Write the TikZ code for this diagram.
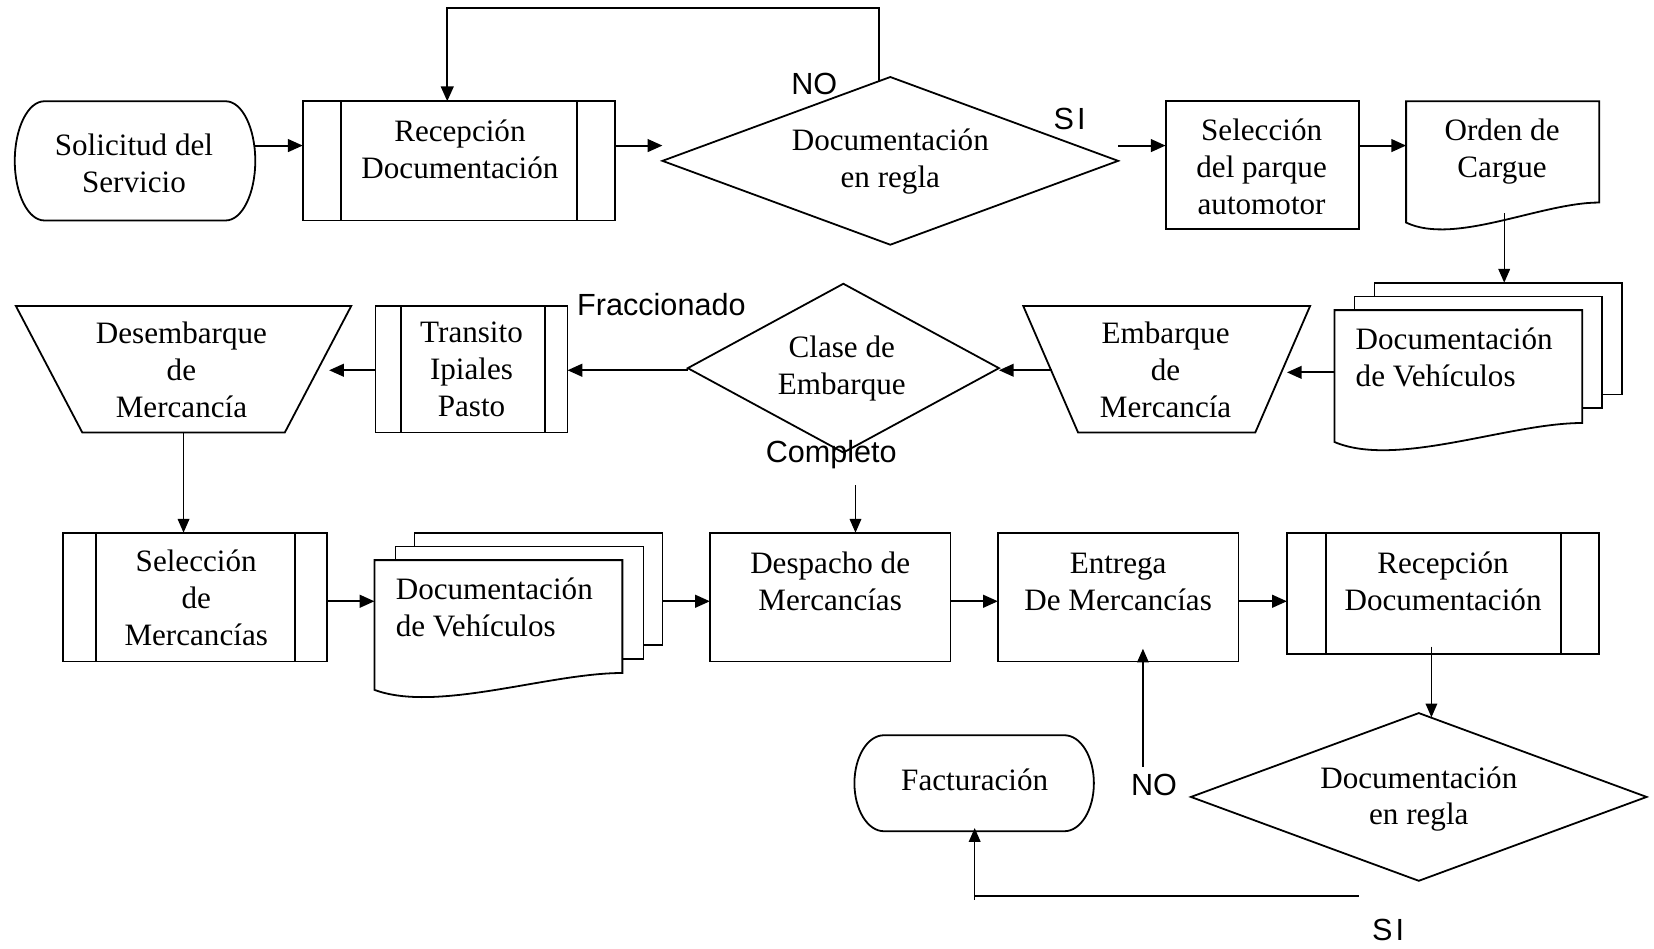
\documentclass[tikz,border=0pt]{standalone}
\usepackage{fontspec}
\setmainfont{Liberation Serif}
\setsansfont{Liberation Sans}
\usetikzlibrary{calc,arrows.meta}
\begin{document}
\begin{tikzpicture}[x=1pt,y=-1pt,
  shp/.style={draw, line width=1.7pt},
  fr/.style 2 args={inner sep=0pt, outer sep=0pt, minimum width=#1pt, minimum height=#2pt},
  txt/.style={font=\fontsize{29.5}{35}\selectfont, align=center, inner sep=0pt},
  lab/.style={font=\sffamily\fontsize{29}{34}\selectfont, inner sep=0pt},
  arr/.style={line width=2pt, -{Triangle[length=14pt,width=12pt]}},
  arrt/.style={line width=1.3pt, -{Triangle[length=13pt,width=11pt]}}]
\fill[white] (0,0) rectangle (1568,899);
\useasboundingbox (0,0) rectangle (1568,899);

% ---------- row 1 ----------
\node[fr={228}{113}] (sol) at (128,152.5) {};
\draw[shp] ($(sol.north east)+(-28,0)$) arc[start angle=90,end angle=-90,x radius=28pt,y radius=56.5pt]
  -- ($(sol.south west)+(28,0)$) arc[start angle=270,end angle=90,x radius=28pt,y radius=56.5pt] -- cycle;

\node[shp, fr={296}{113}] (rec1) at (435,152.5) {};
\draw[shp] ($(rec1.north west)+(36,0)$) -- ($(rec1.south west)+(36,0)$)
           ($(rec1.north east)+(-36,0)$) -- ($(rec1.south east)+(-36,0)$);

\node[fr={432}{159}] (d1) at (844,152.5) {};
\draw[shp] (d1.west) -- (d1.north) -- (d1.east) -- (d1.south) -- cycle;

\node[shp, fr={183}{121}] (sel1) at (1196.5,156.5) {};

\node[fr={183}{115}] (ord) at (1424.5,153.5) {};
\draw[shp] (ord.south west) -- (ord.north west) -- (ord.north east) -- ($(ord.south east)+(0,-19)$)
  .. controls ($(ord.south east)+(-55,-19)$) and ($(ord.south west)+(46,22)$) .. (ord.south west) -- cycle;

% ---------- row 2 ----------
\node[shp, fill=white, fr={235}{106}] (docAback) at (1420.5,321) {};
\node[shp, fill=white, fr={235}{106}] (docAmid) at (1401.5,334) {};
\node[fr={235}{125}] (docA) at (1382.5,356.5) {};
\draw[shp, fill=white] (docA.south west) -- (docA.north west) -- (docA.north east) -- ($(docA.south east)+(0,-18)$)
  .. controls ($(docA.south east)+(-70,-18)$) and ($(docA.south west)+(59,25)$) .. (docA.south west) -- cycle;

\node[fr={272}{120}] (emb) at (1106,350) {};
\draw[shp] (emb.north west) -- (emb.north east) -- ($(emb.south east)+(-52,0)$) -- ($(emb.south west)+(52,0)$) -- cycle;

\node[fr={295}{160}] (d2) at (799.5,349) {};
\draw[shp] (d2.west) -- (d2.north) -- (d2.east) -- (d2.south) -- cycle;

\node[shp, fr={182}{120}] (tra) at (447,350) {};
\draw[shp] ($(tra.north west)+(24,0)$) -- ($(tra.south west)+(24,0)$)
           ($(tra.north east)+(-21,0)$) -- ($(tra.south east)+(-21,0)$);

\node[fr={318}{120}] (desb) at (174,350) {};
\draw[shp] (desb.north west) -- (desb.north east) -- ($(desb.south east)+(-63,0)$) -- ($(desb.south west)+(63,0)$) -- cycle;

% ---------- row 3 ----------
\node[shp, fr={250}{122}] (selm) at (185,566) {};
\draw[shp] ($(selm.north west)+(31,0)$) -- ($(selm.south west)+(31,0)$)
           ($(selm.north east)+(-30,0)$) -- ($(selm.south east)+(-30,0)$);

\node[shp, fill=white, fr={235}{106.5}] (docBback) at (510.5,558.25) {};
\node[shp, fill=white, fr={235}{107}] (docBmid) at (492.5,571.5) {};
\node[fr={235}{123}] (docB) at (472.5,592.5) {};
\draw[shp, fill=white] (docB.south west) -- (docB.north west) -- (docB.north east) -- ($(docB.south east)+(0,-16)$)
  .. controls ($(docB.south east)+(-70,-16)$) and ($(docB.south west)+(59,22)$) .. (docB.south west) -- cycle;

\node[shp, fr={228}{122}] (desp) at (787,566) {};
\node[shp, fr={228}{122}] (ent) at (1060,566) {};

\node[shp, fr={296}{115}] (rec2) at (1368,562.5) {};
\draw[shp] ($(rec2.north west)+(37,0)$) -- ($(rec2.south west)+(37,0)$)
           ($(rec2.north east)+(-36,0)$) -- ($(rec2.south east)+(-36,0)$);

\node[fr={432}{159}] (d3) at (1345,755.5) {};
\draw[shp] (d3.west) -- (d3.north) -- (d3.east) -- (d3.south) -- cycle;

\node[fr={227}{91}] (fac) at (923.5,742.5) {};
\draw[shp] ($(fac.north east)+(-28,0)$) arc[start angle=90,end angle=-90,x radius=28pt,y radius=45.5pt]
  -- ($(fac.south west)+(28,0)$) arc[start angle=270,end angle=90,x radius=28pt,y radius=45.5pt] -- cycle;

% ---------- texts ----------
\node[txt] (sol-t) at (127,154.5) {Solicitud del\\Servicio};
\node[txt] (rec1-t) at (436,142) {Recepción\\Documentación};
\node[txt] (d1-t) at (844,153.5) {Documentación\\en regla};
\node[txt] (sel1-t) at (1196,158) {Selección\\del parque\\automotor};
\node[txt] (ord-t) at (1424,143.5) {Orden de\\Cargue};
\node[txt, align=left, anchor=west] (docA-t) at (1285,338.5) {Documentación\\de Vehículos};
\node[txt] (emb-t) at (1105,350.5) {Embarque\\de\\Mercancía};
\node[txt] (d2-t) at (798,349.5) {Clase de\\Embarque};
\node[txt] (tra-t) at (447,350.5) {Transito\\Ipiales\\Pasto};
\node[txt] (desb-t) at (172,350.5) {Desembarque\\de\\Mercancía};
\node[txt] (selm-t) at (186,567) {Selección\\de\\Mercancías};
\node[txt, align=left, anchor=west] (docB-t) at (375,575.5) {Documentación\\de Vehículos};
\node[txt] (desp-t) at (787,551) {Despacho de\\Mercancías};
\node[txt] (ent-t) at (1060,551.5) {Entrega\\De Mercancías};
\node[txt] (rec2-t) at (1368,551) {Recepción\\Documentación};
\node[txt] (d3-t) at (1345,757.5) {Documentación\\en regla};
\node[txt] (fac-t) at (924,739.5) {Facturación};

% ---------- labels ----------
\node[lab] (no1) at (772,80) {NO};
\node[lab] (si1) at (1014,113) {S\kern3pt I};
\node[lab] (fra) at (627,289) {Fraccionado};
\node[lab] (com) at (788,431) {Completo};
\node[lab] (no2) at (1094,744) {NO};
\node[lab] (si2) at (1316,882) {S\kern3pt I};

% ---------- connectors ----------
\draw[arr] ($(sol.east)+(0,-14.5)$) -- ($(rec1.west)+(0,-14.5)$);
\draw[arr] ($(rec1.east)+(0,-14.5)$) -- ($(d1.west)+(0,-14.5)$);
\draw[line width=1.8pt, -{Triangle[length=14pt,width=12pt]}] ($(d1.north)+(-11,4)$) -- ++(0,-69) -| ($(rec1.north)+(-11,0)$);
\draw[arr] ($(d1.east)+(0,-14.5)$) -- ($(sel1.west)+(0,-18.5)$);
\draw[arr] ($(sel1.east)+(0,-18.5)$) -- ($(ord.west)+(0,-15.5)$);
\coordinate (ordout) at ($(ord.south)+(1.5,-9)$);
\draw[arrt] (ordout) -- (ordout |- docAback.north);
\draw[arr] ($(docA.west)+(0,-3.5)$) -- ($(emb.east)+(-22,3)$);
\draw[arr] ($(emb.west)+(27,1)$) -- ($(d2.east)+(0,2)$);
\draw[arr] ($(d2.west)+(0,2)$) -- ($(tra.east)+(0,1)$);
\draw[arr] ($(tra.west)+(0,1)$) -- ($(desb.east)+(-21,1)$);
\draw[arrt] (desb.south) -- (desb.south |- selm.north);
\draw[arr] ($(selm.east)+(0,4)$) -- ($(docB.west)+(0,-22.5)$);
\draw[arr] ($(docBback.east)+(0,11.75)$) -- ($(desp.west)+(0,4)$);
\coordinate (cpl) at ($(desp.north)+(24,-45)$);
\draw[arrt] (cpl) -- ($(desp.north)+(24,0)$);
\draw[arr] ($(desp.east)+(0,4)$) -- ($(ent.west)+(0,4)$);
\draw[arr] ($(ent.east)+(0,4)$) -- ($(rec2.west)+(0,7.5)$);
\coordinate (r2out) at ($(rec2.south)+(-11,-7)$);
\draw[arrt] (r2out) -- ++(0,67);
\coordinate (noS) at ($(ent.south)+(23.5,100)$);
\draw[arrt] (noS) -- ($(ent.south)+(23.5,-12)$);
\coordinate (siA) at ($(d3.south)+(-57,14)$);
\draw[line width=2pt] (siA) -- (siA -| fac.south);
\draw[arrt] ($(fac.south)+(0.5,65)$) -- ($(fac.south)+(0.5,-3)$);
\end{tikzpicture}
\end{document}
